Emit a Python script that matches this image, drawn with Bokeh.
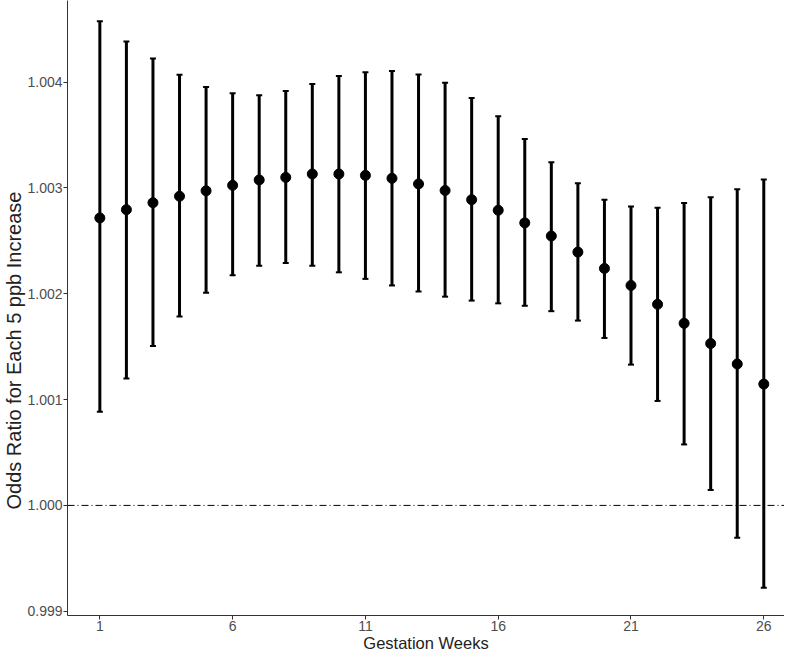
from bokeh.plotting import figure
from bokeh.models import (ColumnDataSource, Range1d, FixedTicker, NumeralTickFormatter,
                          Span, Whisker, TeeHead, Title)
from bokeh.embed import file_html
from bokeh.resources import INLINE

weeks = list(range(1, 27))
estimate = [1.002716, 1.002794, 1.002860, 1.002921, 1.002972, 1.003024, 1.003075, 1.003099,
            1.003131, 1.003131, 1.003118, 1.003090, 1.003037, 1.002975, 1.002888, 1.002788,
            1.002669, 1.002545, 1.002393, 1.002239, 1.002078, 1.001900, 1.001720, 1.001529,
            1.001336, 1.001146]
upper = [1.004573, 1.004383, 1.004221, 1.004068, 1.003953, 1.003893, 1.003875, 1.003916,
         1.003981, 1.004056, 1.004093, 1.004103, 1.004071, 1.003993, 1.003850, 1.003676,
         1.003461, 1.003243, 1.003043, 1.002888, 1.002825, 1.002813, 1.002856, 1.002912,
         1.002987, 1.003078]
lower = [1.000884, 1.001199, 1.001507, 1.001785, 1.002009, 1.002174, 1.002264, 1.002290,
         1.002264, 1.002202, 1.002140, 1.002078, 1.002021, 1.001972, 1.001935, 1.001909,
         1.001886, 1.001835, 1.001746, 1.001582, 1.001330, 1.000987, 1.000576, 1.000146,
         0.999694, 0.999221]
x_ticks = [1, 6, 11, 16, 21, 26]
y_ticks = [0.999, 1.000, 1.001, 1.002, 1.003, 1.004]

src = ColumnDataSource(dict(week=weeks, est=estimate, up=upper, lo=lower))

FONT = "Liberation Sans"

p = figure(width=784, height=654, output_backend="svg", toolbar_location=None,
           x_range=Range1d(-0.218, 26.78), y_range=Range1d(0.99896, 1.00477),
           min_border_left=0, min_border_right=0, min_border_top=0, min_border_bottom=0)
p.outline_line_color = None
p.xgrid.visible = False
p.ygrid.visible = False
p.background_fill_color = "white"
p.border_fill_color = "white"

ref = Span(location=1.0, dimension="width", line_color="black", line_width=1,
           line_dash="7 3 1 3")
p.add_layout(ref)

wh = Whisker(source=src, base="week", upper="up", lower="lo", dimension="height",
             line_color="black", line_width=3,
             upper_head=TeeHead(size=6, line_width=2, line_color="black"),
             lower_head=TeeHead(size=6, line_width=2, line_color="black"))
p.add_layout(wh)

p.scatter("week", "est", source=src, size=10, color="black")

p.xaxis.ticker = FixedTicker(ticks=x_ticks)
p.yaxis.ticker = FixedTicker(ticks=y_ticks)
p.yaxis.formatter = NumeralTickFormatter(format="0.000")

for ax in (p.xaxis[0], p.yaxis[0]):
    ax.axis_line_color = "#333333"
    ax.axis_line_width = 1
    ax.major_tick_line_color = "#333333"
    ax.major_tick_out = 4
    ax.major_tick_in = 0
    ax.minor_tick_line_color = None
    ax.major_label_text_font = FONT
    ax.major_label_text_font_size = "14px"
    ax.major_label_text_color = "#4d4d4d"
    ax.axis_label_text_font = FONT
    ax.axis_label_text_font_size = "16.5px"
    ax.axis_label_text_font_style = "normal"
    ax.axis_label_text_color = "#222222"
    ax.major_label_standoff = 1
    ax.axis_label_standoff = 0

p.xaxis.axis_label = "Gestation Weeks"

ytitle = Title(text="Odds Ratio for Each 5 ppb Increase", align="left", offset=106,
               text_font=FONT, text_font_size="20px", text_font_style="normal",
               text_color="#222222", standoff=0)
p.add_layout(ytitle, "left")

open("out.html", "w").write(file_html(p, INLINE))
